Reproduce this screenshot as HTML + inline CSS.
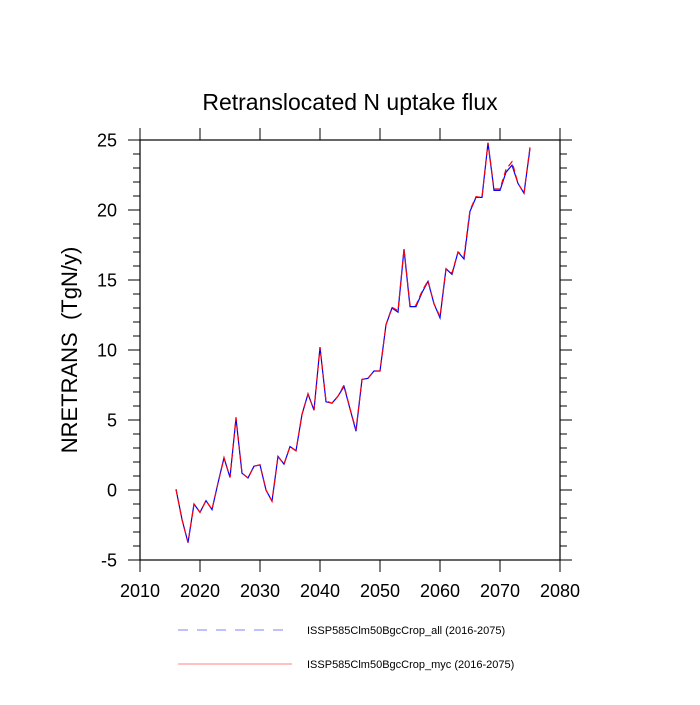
<!DOCTYPE html>
<html><head><meta charset="utf-8"><style>
body{margin:0;background:#fff}
svg{font-family:"Liberation Sans",Arial,sans-serif}
</style></head><body>
<svg id="c" width="700" height="700" xmlns="http://www.w3.org/2000/svg"></svg>
<script>
const years=[];for(let y=2016;y<=2075;y++)years.push(y);
const mycValues=[0.05,-2.1,-3.76,-1.0,-1.6,-0.76,-1.4,0.5,2.3,0.9,5.2,1.2,0.86,1.7,1.8,0,-0.8,2.4,1.85,3.1,2.8,5.4,6.86,5.7,10.2,6.36,6.2,6.7,7.5,5.8,4.3,7.9,7.98,8.5,8.5,11.8,13.05,12.8,17.2,13.2,13.2,14.2,14.95,13.3,12.4,15.8,15.5,17.0,16.7,20.0,20.95,20.9,24.8,21.5,21.5,22.9,23.45,21.9,21.2,24.5];
const allValues=[0.05,-2.1,-3.76,-1.0,-1.6,-0.76,-1.4,0.5,2.3,0.9,5.1,1.2,0.86,1.7,1.8,0,-0.8,2.4,1.85,3.1,2.8,5.4,6.86,5.7,10.2,6.3,6.2,6.7,7.4,5.8,4.2,7.9,7.98,8.5,8.5,11.8,13.0,12.7,17.2,13.1,13.1,14.1,14.9,13.3,12.3,15.8,15.4,17.0,16.5,19.9,20.9,20.9,24.8,21.4,21.4,22.7,23.2,21.9,21.2,24.4];
const xTicks=[2010,2020,2030,2040,2050,2060,2070,2080];
const yTicks=[-5,0,5,10,15,20,25];
const X0=140,X1=560,Y0=140,Y1=560;
const xs=v=>X0+(v-2010)/70*(X1-X0);
const ys=v=>Y1-(v+5)/30*(Y1-Y0);
const svg=document.getElementById('c');
const NS='http://www.w3.org/2000/svg';
function mk(t,a,p){const e=document.createElementNS(NS,t);for(const k in a)e.setAttribute(k,a[k]);(p||svg).appendChild(e);return e;}
const g=mk('g',{});


mk('rect',{x:X0,y:Y0,width:X1-X0,height:Y1-Y0,fill:'none',stroke:'#000','stroke-width':1.2},g);
const tk={stroke:'#000','stroke-width':1};
for(const t of xTicks){const x=xs(t);
 mk('line',Object.assign({x1:x,x2:x,y1:Y1,y2:Y1+12},tk),g);
 mk('line',Object.assign({x1:x,x2:x,y1:Y0,y2:Y0-12},tk),g);
 const tx=mk('text',{x:x,y:Y1+37,'text-anchor':'middle','font-size':18},g);tx.textContent=t;
 
 
}
for(let v=-5;v<=25;v++){const y=ys(v);const maj=v%5===0;const L=maj?12:7;
 mk('line',Object.assign({x1:X0-L,x2:X0,y1:y,y2:y},tk),g);
 mk('line',Object.assign({x1:X1,x2:X1+L,y1:y,y2:y},tk),g);
}
for(const t of yTicks){const tx=mk('text',{x:X0-23,y:ys(t)+6.5,'text-anchor':'end','font-size':18},g);tx.textContent=t;
 
 
}
function line(vals,color,dash,name){
 const d=vals.map((v,i)=>(i?'L':'M')+xs(years[i]).toFixed(2)+','+ys(v).toFixed(2)).join('');
 const p=mk('path',{d:d,fill:'none',stroke:color,'stroke-width':1.2,'stroke-dasharray':dash||'none'});
 
 
}
line(allValues,'#0000ff',null,'series-all-line');
line(mycValues,'#ff0000','6,4','series-myc-line');
</script>
<div style="position:absolute;left:0;top:0;width:700px;height:700px;pointer-events:none">
<svg width="700" height="700" style="position:absolute;left:0;top:0;font-family:'Liberation Sans',Arial,sans-serif">
<text x="350" y="110" text-anchor="middle" font-size="23">Retranslocated N uptake flux</text>
<text transform="translate(77,350) rotate(-90)" text-anchor="middle" font-size="22">NRETRANS&#160;&#160;(TgN/y)</text>
<g>
<line x1="178" x2="292" y1="630" y2="630" stroke="#8080ff" stroke-width="1" stroke-dasharray="10,9"/>
<text x="307" y="634" font-size="11">ISSP585Clm50BgcCrop_all (2016-2075)</text>
<line x1="178" x2="292" y1="664" y2="664" stroke="#ff8080" stroke-width="1"/>
<text x="307" y="668" font-size="11">ISSP585Clm50BgcCrop_myc (2016-2075)</text>
</g>
</svg></div>
</body></html>
